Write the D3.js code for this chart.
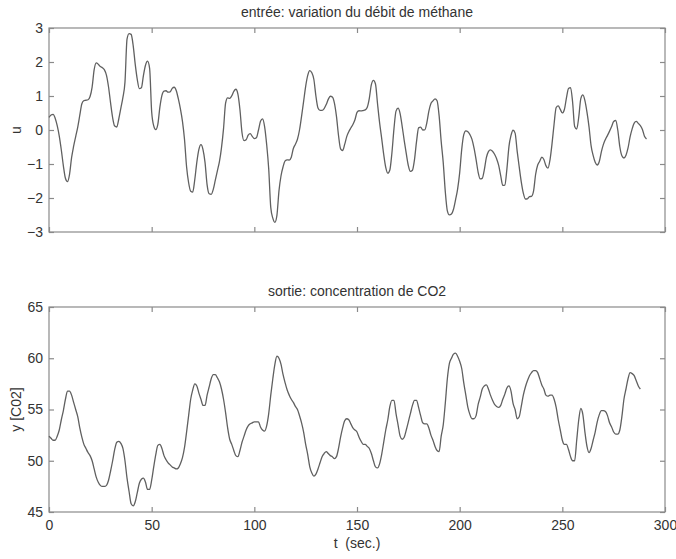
<!DOCTYPE html>
<html>
<head>
<meta charset="utf-8">
<script src="https://cdn.jsdelivr.net/npm/d3@7"></script>
<style>
  html, body { margin: 0; padding: 0; background: #fff; }
  svg { display: block; font-family: "Liberation Sans", Arial, Helvetica, sans-serif; }
</style>
</head>
<body>
<svg id="chart" width="676" height="559"></svg>
<script>
// ---- data (Box-Jenkins gas furnace, one sample per second) ----
const titleTop = "entrée: variation du débit de méthane";
const titleBottom = "sortie: concentration de CO2";
const yLabelTop = "u";
const yLabelBottom = "y [C02]";
const xLabel = "t  (sec.)";

const xTicks = [0, 50, 100, 150, 200, 250, 300];
const uTicks = [-3, -2, -1, 0, 1, 2, 3];
const yTicks = [45, 50, 55, 60, 65];

const uValues = [0.373, 0.441, 0.461, 0.348, 0.127, -0.180,
 -0.588, -1.055, -1.421, -1.520, -1.302, -0.814, -0.475, -0.193, 0.088, 0.435,
 0.771, 0.866, 0.875, 0.891, 0.987, 1.263, 1.775, 1.976, 1.934, 1.866,
 1.832, 1.767, 1.608, 1.265, 0.790, 0.360, 0.115, 0.088, 0.331, 0.645,
 0.960, 1.409, 2.670, 2.834, 2.812, 2.483, 1.929, 1.485, 1.214, 1.239,
 1.608, 1.905, 2.023, 1.815, 0.535, 0.122, 0.009, 0.164, 0.671, 1.019,
 1.146, 1.155, 1.112, 1.121, 1.223, 1.257, 1.157, 0.913, 0.620, 0.255,
 -0.280, -1.080, -1.551, -1.799, -1.825, -1.456, -0.944, -0.570, -0.431, -0.577,
 -0.960, -1.616, -1.875, -1.891, -1.746, -1.474, -1.201, -0.927, -0.524, 0.040,
 0.788, 0.943, 0.930, 1.006, 1.137, 1.198, 1.054, 0.595, -0.080, -0.314,
 -0.288, -0.153, -0.109, -0.187, -0.255, -0.229, -0.007, 0.254, 0.330, 0.102,
 -0.423, -1.139, -2.275, -2.594, -2.716, -2.510, -1.790, -1.346, -1.081, -0.910,
 -0.876, -0.885, -0.800, -0.544, -0.416, -0.271, 0.000, 0.403, 0.841, 1.285,
 1.607, 1.746, 1.683, 1.485, 0.993, 0.648, 0.577, 0.577, 0.632, 0.747,
 0.900, 0.993, 0.968, 0.790, 0.399, -0.161, -0.553, -0.603, -0.424, -0.194,
 -0.049, 0.060, 0.161, 0.301, 0.517, 0.566, 0.560, 0.573, 0.592, 0.671,
 0.933, 1.337, 1.460, 1.353, 0.772, 0.218, -0.237, -0.714, -1.099, -1.269,
 -1.175, -0.676, 0.033, 0.556, 0.643, 0.484, 0.109, -0.310, -0.697, -1.047,
 -1.218, -1.183, -0.873, -0.336, 0.063, 0.084, 0.000, 0.001, 0.209, 0.556,
 0.782, 0.858, 0.918, 0.862, 0.416, -0.336, -0.959, -1.813, -2.378, -2.499,
 -2.473, -2.330, -2.053, -1.739, -1.261, -0.569, -0.137, -0.024, -0.050, -0.135,
 -0.276, -0.534, -0.871, -1.243, -1.439, -1.422, -1.175, -0.813, -0.634, -0.582,
 -0.625, -0.713, -0.848, -1.039, -1.346, -1.628, -1.619, -1.149, -0.488, -0.160,
 -0.007, -0.092, -0.620, -1.086, -1.525, -1.858, -2.029, -2.024, -1.961, -1.952,
 -1.794, -1.302, -1.030, -0.918, -0.798, -0.867, -1.047, -1.123, -0.876, -0.395,
 0.185, 0.662, 0.709, 0.605, 0.501, 0.603, 0.943, 1.223, 1.249, 0.824,
 0.102, 0.025, 0.382, 0.922, 1.032, 0.866, 0.527, 0.093, -0.458, -0.748,
 -0.947, -1.029, -0.928, -0.645, -0.424, -0.276, -0.158, -0.033, 0.102, 0.251,
 0.280, 0.000, -0.493, -0.759, -0.824, -0.740, -0.528, -0.204, 0.034, 0.204,
 0.253, 0.195, 0.131, 0.017, -0.182, -0.262];

const yValues = [52.4, 52.2, 52.0,
 52.0, 52.4, 53.0, 54.0, 54.9, 56.0, 56.8, 56.8, 56.4, 55.7,
 55.0, 54.3, 53.2, 52.3, 51.6, 51.2, 50.8, 50.5, 50.0, 49.2,
 48.4, 47.9, 47.6, 47.5, 47.5, 47.6, 48.1, 49.0, 50.0, 51.1,
 51.8, 51.9, 51.7, 51.2, 50.0, 48.3, 47.0, 45.8, 45.6, 46.0,
 46.9, 47.8, 48.2, 48.3, 47.9, 47.2, 47.2, 48.1, 49.4, 50.6,
 51.5, 51.6, 51.2, 50.5, 50.1, 49.8, 49.6, 49.4, 49.3, 49.2,
 49.3, 49.7, 50.3, 51.3, 52.8, 54.4, 56.0, 56.9, 57.5, 57.3,
 56.6, 56.0, 55.4, 55.4, 56.4, 57.2, 58.0, 58.4, 58.4, 58.1,
 57.7, 57.0, 56.0, 54.7, 53.2, 52.1, 51.6, 51.0, 50.5, 50.4,
 51.0, 51.8, 52.4, 53.0, 53.4, 53.6, 53.7, 53.8, 53.8, 53.8,
 53.3, 53.0, 52.9, 53.4, 54.6, 56.4, 58.0, 59.4, 60.2, 60.0,
 59.4, 58.4, 57.6, 56.9, 56.4, 56.0, 55.7, 55.3, 55.0, 54.4,
 53.7, 52.8, 51.6, 50.6, 49.4, 48.8, 48.5, 48.7, 49.2, 49.8,
 50.4, 50.7, 50.9, 50.7, 50.5, 50.4, 50.2, 50.4, 51.2, 52.3,
 53.2, 53.9, 54.1, 54.0, 53.6, 53.2, 53.0, 52.8, 52.3, 51.9,
 51.6, 51.6, 51.4, 51.2, 50.7, 50.0, 49.4, 49.3, 49.7, 50.6,
 51.8, 53.0, 54.0, 55.3, 55.9, 55.9, 54.6, 53.5, 52.4, 52.1,
 52.3, 53.0, 53.8, 54.6, 55.4, 55.9, 55.9, 55.2, 54.4, 53.7,
 53.6, 53.6, 53.2, 52.5, 52.0, 51.4, 51.0, 50.9, 52.4, 53.5,
 55.6, 58.0, 59.5, 60.0, 60.4, 60.5, 60.2, 59.7, 59.0, 57.6,
 56.4, 55.2, 54.5, 54.1, 54.1, 54.4, 55.5, 56.2, 57.0, 57.3,
 57.4, 57.0, 56.4, 55.9, 55.5, 55.3, 55.2, 55.4, 56.0, 56.5,
 57.1, 57.3, 56.8, 55.6, 55.0, 54.1, 54.3, 55.3, 56.4, 57.2,
 57.8, 58.3, 58.6, 58.8, 58.8, 58.6, 58.0, 57.4, 57.0, 56.4,
 56.3, 56.4, 56.4, 56.0, 55.2, 54.0, 53.0, 52.0, 51.6, 51.6,
 51.1, 50.4, 50.0, 50.0, 52.0, 54.0, 55.1, 54.5, 52.8, 51.4,
 50.8, 51.2, 52.0, 52.8, 53.8, 54.5, 54.9, 54.9, 54.8, 54.4,
 53.7, 53.3, 52.8, 52.6, 52.6, 53.0, 54.3, 56.0, 57.0, 58.0,
 58.6, 58.5, 58.3, 57.8, 57.3, 57.0];

// ---- layout ----
const svg = d3.select("#chart");
const frameColor = "#8a8a8a";
const textColor = "#333";
const lineColor = "#606060";
const left = 49, right = 665;
const panels = [
  { top: 28, bottom: 232, domain: [-3, 3], ticks: uTicks, values: uValues,
    title: titleTop, ylabel: yLabelTop, xLabels: false },
  { top: 307, bottom: 512, domain: [45, 65], ticks: yTicks, values: yValues,
    title: titleBottom, ylabel: yLabelBottom, xLabels: true }
];

const x = d3.scaleLinear().domain([0, 300]).range([left, right]);
const fontSize = 14;

panels.forEach(p => {
  const y = d3.scaleLinear().domain(p.domain).range([p.bottom, p.top]);
  const g = svg.append("g");

  // frame
  g.append("rect")
    .attr("x", left).attr("y", p.top)
    .attr("width", right - left).attr("height", p.bottom - p.top)
    .attr("fill", "none").attr("stroke", frameColor).attr("stroke-width", 1.2);

  // axes with inward ticks
  const tickLen = 5;
  const axB = d3.axisBottom(x).tickValues(xTicks).tickSize(-tickLen).tickPadding(8)
    .tickFormat(p.xLabels ? d3.format("d") : () => "");
  const axT = d3.axisTop(x).tickValues(xTicks).tickSize(-tickLen).tickFormat(() => "");
  const axL = d3.axisLeft(y).tickValues(p.ticks).tickSize(-tickLen).tickPadding(6)
    .tickFormat(d3.format("d"));
  const axR = d3.axisRight(y).tickValues(p.ticks).tickSize(-tickLen).tickFormat(() => "");

  [[axB, `translate(0,${p.bottom})`], [axT, `translate(0,${p.top})`],
   [axL, `translate(${left},0)`], [axR, `translate(${right},0)`]].forEach(([ax, tr]) => {
    const a = g.append("g").attr("transform", tr).call(ax);
    a.select(".domain").remove();
    a.selectAll(".tick line").attr("stroke", frameColor).attr("stroke-width", 1.2);
    a.selectAll(".tick text").attr("fill", textColor)
      .style("font-size", fontSize + "px")
      .style("font-family", '"Liberation Sans", Arial, Helvetica, sans-serif');
  });

  // data line
  const line = d3.line()
    .x((d, i) => x(i))
    .y(d => y(d))
    .curve(d3.curveMonotoneX);
  g.append("path")
    .datum(p.values)
    .attr("d", line)
    .attr("fill", "none")
    .attr("stroke", lineColor)
    .attr("stroke-width", 1.3)
    .attr("stroke-linejoin", "round");

  // title
  g.append("text")
    .attr("x", (left + right) / 2).attr("y", p.top - 11)
    .attr("text-anchor", "middle").attr("fill", textColor)
    .style("font-size", fontSize + "px")
    .text(p.title);

  // y label
  g.append("text")
    .attr("transform", `translate(21,${(p.top + p.bottom) / 2}) rotate(-90)`)
    .attr("text-anchor", "middle").attr("fill", textColor)
    .style("font-size", fontSize + "px")
    .text(p.ylabel);
});

// x label
svg.append("text")
  .attr("x", (left + right) / 2).attr("y", 548)
  .attr("text-anchor", "middle").attr("fill", textColor)
  .style("font-size", fontSize + "px")
  .style("white-space", "pre")
  .attr("xml:space", "preserve")
  .text(xLabel);
</script>
</body>
</html>
